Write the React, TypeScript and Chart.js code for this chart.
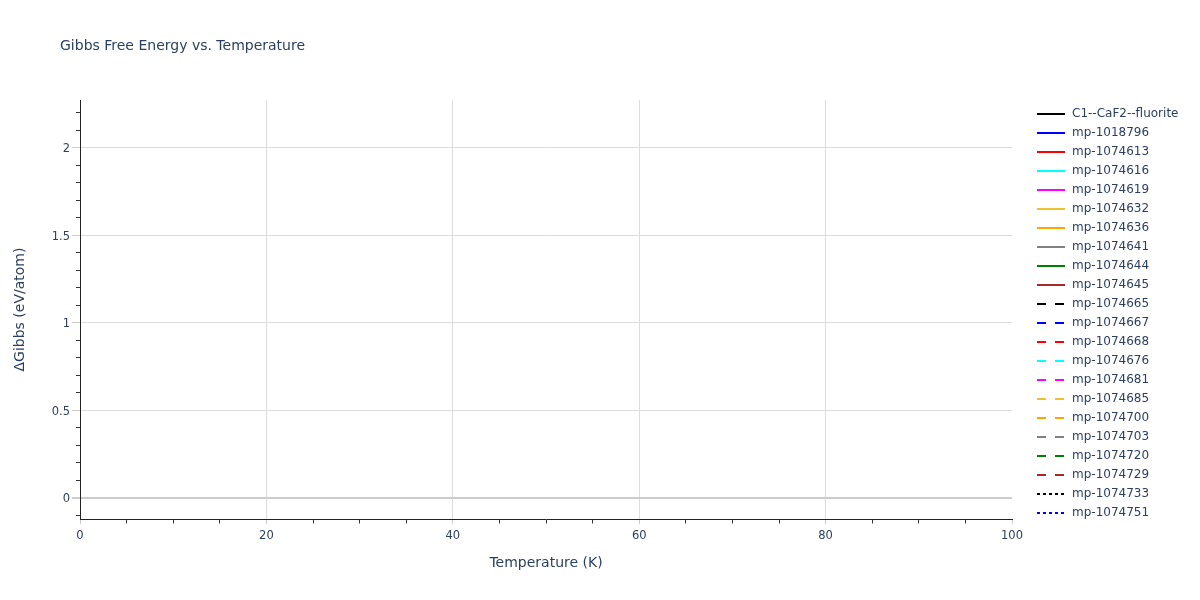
import React, { useEffect, useRef } from "react";
import { Chart, registerables } from "chart.js";

Chart.register(...registerables);

const chartTitle = "Gibbs Free Energy vs. Temperature";
const xAxisTitle = "Temperature (K)";
const yAxisTitle = "ΔGibbs (eV/atom)";

const xRange = [0, 100];
const yRange = [-0.12, 2.274];

const seriesNames = [
  "C1--CaF2--fluorite",
  "mp-1018796",
  "mp-1074613",
  "mp-1074616",
  "mp-1074619",
  "mp-1074632",
  "mp-1074636",
  "mp-1074641",
  "mp-1074644",
  "mp-1074645",
  "mp-1074665",
  "mp-1074667",
  "mp-1074668",
  "mp-1074676",
  "mp-1074681",
  "mp-1074685",
  "mp-1074700",
  "mp-1074703",
  "mp-1074720",
  "mp-1074729",
  "mp-1074733",
  "mp-1074751",
];

const seriesColors = [
  "#000000", "#0000ff", "#ff0000", "#00ffff", "#ff00ff", "#eec22e", "#ffa500", "#808080", "#008000", "#a52a2a",
  "#000000", "#0000ff", "#ff0000", "#00ffff", "#ff00ff", "#eec22e", "#ffa500", "#808080", "#008000", "#a52a2a",
  "#000000", "#0000ff",
];

const seriesDash: string[] = [
  "solid", "solid", "solid", "solid", "solid", "solid", "solid", "solid", "solid", "solid",
  "dash", "dash", "dash", "dash", "dash", "dash", "dash", "dash", "dash", "dash",
  "dot", "dot",
];

// No visible data in the reference: every series is empty.
const seriesValues: { x: number; y: number }[][] = seriesNames.map(() => []);

const FONT = "'DejaVu Sans', Verdana, sans-serif";
const TEXT = "#2a3f5f";

const dashPattern = (d: string): number[] =>
  d === "dash" ? [9, 9] : d === "dot" ? [3, 3] : [];

const isMultiple = (v: number, step: number) =>
  Math.abs(v / step - Math.round(v / step)) < 1e-6;

const overlayPlugin = {
  id: "overlay",
  afterDraw(chart: any) {
    const ctx = chart.ctx as CanvasRenderingContext2D;
    ctx.save();
    ctx.fillStyle = TEXT;
    ctx.font = `14px ${FONT}`;
    ctx.textAlign = "left";
    ctx.textBaseline = "alphabetic";
    ctx.fillText(chartTitle, 60, 50);

    ctx.font = `12px ${FONT}`;
    ctx.textBaseline = "middle";
    chart.data.datasets.forEach((ds: any, i: number) => {
      const y = 114 + i * 19;
      ctx.beginPath();
      ctx.setLineDash(ds.borderDash || []);
      ctx.strokeStyle = ds.borderColor;
      ctx.lineWidth = 2;
      ctx.moveTo(1037, y);
      ctx.lineTo(1065, y);
      ctx.stroke();
      ctx.setLineDash([]);
      ctx.fillStyle = TEXT;
      ctx.fillText(ds.label, 1072, y);
    });
    ctx.restore();
  },
};

export default function App() {
  const ref = useRef<HTMLCanvasElement>(null);

  useEffect(() => {
    document.body.style.margin = "0";
    const canvas = ref.current;
    if (!canvas) return;
    const chart = new Chart(canvas, {
      type: "line",
      data: {
        datasets: seriesNames.map((name, i) => ({
          label: name,
          data: seriesValues[i],
          borderColor: seriesColors[i],
          backgroundColor: seriesColors[i],
          borderDash: dashPattern(seriesDash[i]),
          borderWidth: 2,
          pointRadius: 0,
          fill: false,
        })),
      },
      options: {
        animation: false,
        responsive: false,
        maintainAspectRatio: false,
        layout: { padding: { left: 0, right: 188, top: 100, bottom: 0 } },
        plugins: {
          legend: { display: false },
          title: { display: false },
          tooltip: { enabled: false },
        },
        scales: {
          x: {
            type: "linear",
            min: xRange[0],
            max: xRange[1],
            afterFit: (s: any) => {
              s.height = 81;
            },
            ticks: {
              stepSize: 5,
              autoSkip: false,
              includeBounds: false,
              maxRotation: 0,
              padding: 5.5,
              color: TEXT,
              font: { family: FONT, size: 11.5 },
              callback: (v: any) => (isMultiple(Number(v), 20) ? String(Math.round(Number(v))) : ""),
            },
            grid: {
              drawTicks: true,
              tickLength: 5,
              color: (c: any) => {
                const v = c.tick?.value;
                if (v === undefined) return "transparent";
                if (!isMultiple(v, 20) || v <= xRange[0] || v >= xRange[1]) return "transparent";
                return "#dcdcdc";
              },
              tickColor: (c: any) => {
                const v = c.tick?.value;
                return v !== undefined && isMultiple(v, 20) ? "#cccccc" : "#333333";
              },
              tickBorderDash: (c: any) => {
                const v = c.tick?.value;
                return v !== undefined && isMultiple(v, 20) ? [] : [3.5, 100];
              },
              lineWidth: 1,
            },
            border: { display: true, color: "#222222", width: 1 },
            title: {
              display: true,
              text: xAxisTitle,
              color: TEXT,
              font: { family: FONT, size: 14 },
              padding: { top: 0, bottom: 28.6 },
            },
          },
          y: {
            type: "linear",
            min: yRange[0],
            max: yRange[1],
            afterFit: (s: any) => {
              s.width = 80;
            },
            ticks: {
              stepSize: 0.1,
              autoSkip: false,
              includeBounds: false,
              padding: 2,
              labelOffset: 1.5,
              color: TEXT,
              font: { family: FONT, size: 11.5 },
              callback: (v: any) => {
                const n = Number(v);
                if (!isMultiple(n, 0.5)) return "";
                const r = Math.round(n * 2) / 2;
                return String(r);
              },
            },
            grid: {
              drawTicks: true,
              tickLength: 8,
              color: (c: any) => {
                const v = c.tick?.value;
                if (v === undefined || !isMultiple(v, 0.5)) return "transparent";
                return Math.abs(v) < 1e-6 ? "#cccccc" : "#dcdcdc";
              },
              lineWidth: (c: any) => {
                const v = c.tick?.value;
                return v !== undefined && Math.abs(v) < 1e-6 ? 2 : 1;
              },
              tickColor: (c: any) => {
                const v = c.tick?.value;
                return v !== undefined && isMultiple(v, 0.5) ? "#cccccc" : "#333333";
              },
              tickBorderDash: (c: any) => {
                const v = c.tick?.value;
                return v !== undefined && isMultiple(v, 0.5) ? [] : [4, 4];
              },
              tickBorderDashOffset: (c: any) => {
                const v = c.tick?.value;
                return v !== undefined && isMultiple(v, 0.5) ? 0 : 4;
              },
            },
            border: { display: true, color: "#222222", width: 1 },
            title: {
              display: true,
              text: yAxisTitle,
              color: TEXT,
              font: { family: FONT, size: 14 },
              padding: { top: 12, bottom: 0 },
            },
          },
        },
      },
      plugins: [overlayPlugin],
    });
    return () => chart.destroy();
  }, []);

  return (
    <div style={{ width: 1200, height: 600, background: "#ffffff" }}>
      <canvas ref={ref} width={1200} height={600} style={{ display: "block" }} />
    </div>
  );
}
